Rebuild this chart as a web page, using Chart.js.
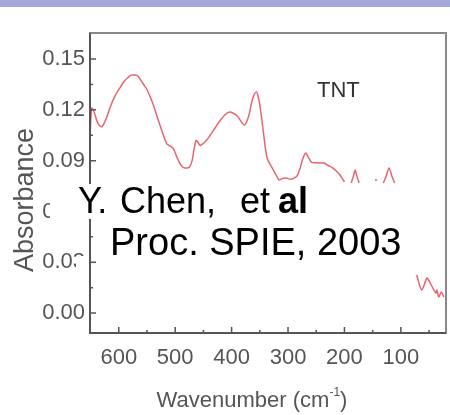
<!DOCTYPE html>
<html>
<head>
<meta charset="utf-8">
<script src="https://cdn.jsdelivr.net/npm/chart.js@4.4.1/dist/chart.umd.min.js"></script>
<style>
  html, body { margin: 0; padding: 0; background: #fff; }
</style>
</head>
<body>
<canvas id="spectrum" width="450" height="415"></canvas>
<script>
// TNT far-IR absorbance spectrum (null = hidden by the caption)
const wavenumber = [651, 648, 644, 637, 630, 622, 616, 607, 598, 590, 584, 578, 572, 566, 562, 556, 550, 540, 528, 515, 508, 503, 497, 492, 488, 483, 477, 474, 470, 467, 463, 460, 456, 453, 446, 439, 430, 422, 412, 404, 397, 390, 383, 377, 372, 368, 364, 360, 356, 353, 350, 346, 343, 340, 337, 333, 328, 322, 316, 310, 303, 296, 290, 284, 279, 275, 271, 268, 264, 258, 250, 243, 236, 228, 222, 215, 209, 204, 200,
  194, 188, 184, 181, 178, 174, 160, 146, 142, 136, 131, 126, 121, 116, 111, 90,
  72, 63, 54, 51, 38, 36, 33, 28, 24];
const absorbance = [0.104, 0.121, 0.119, 0.112, 0.110, 0.115, 0.121, 0.128, 0.133, 0.137, 0.139, 0.1405, 0.1406, 0.140, 0.138, 0.135, 0.132, 0.124, 0.112, 0.100, 0.0985, 0.097, 0.092, 0.0886, 0.0865, 0.0857, 0.0858, 0.0865, 0.090, 0.096, 0.102, 0.101, 0.099, 0.0995, 0.1015, 0.1045, 0.109, 0.113, 0.117, 0.1187, 0.118, 0.1164, 0.113, 0.111, 0.114, 0.1187, 0.125, 0.129, 0.1306, 0.128, 0.123, 0.113, 0.105, 0.097, 0.0916, 0.0885, 0.0857, 0.082, 0.0786, 0.0795, 0.0797, 0.079, 0.0795, 0.081, 0.085, 0.090, 0.0935, 0.0945, 0.092, 0.089, 0.0888, 0.0886, 0.0886, 0.087, 0.086, 0.084, 0.082, 0.0795, 0.0774,
  null, 0.0768, 0.081, 0.0845, 0.081, 0.0768, null, 0.0786, 0.0786, null, 0.0768, 0.081, 0.0857, 0.081, 0.0768, null,
  0.0224, 0.0136, 0.0207, 0.0195, 0.0118, 0.0136, 0.0095, 0.0124, 0.0095];

const xTicks = [600, 500, 400, 300, 200, 100];
const xMinorTicks = [550, 450, 350, 250, 150, 50];
const yTicks = [0, 0.03, 0.06, 0.09, 0.12, 0.15];
const yMinorTicks = [0.015, 0.045, 0.075, 0.105, 0.135];

const FONT = '"Liberation Sans", Arial, sans-serif';

// frame, inward ticks, axis titles, top band and the pasted caption
const decor = {
  id: "decor",
  beforeDraw(chart) {
    const c = chart.ctx;
    c.save();
    c.fillStyle = "#fff";
    c.fillRect(0, 0, chart.width, chart.height);
    c.fillStyle = "#a2a8dc";
    c.fillRect(0, 0, chart.width, 7);
    c.restore();
  },
  afterDraw(chart) {
    const c = chart.ctx;
    const a = chart.chartArea;
    const xs = chart.scales.x, ys = chart.scales.y;
    c.save();
    c.strokeStyle = "#888";
    c.lineWidth = 2;
    c.strokeRect(a.left, a.top, a.right - a.left, a.bottom - a.top);
    c.strokeStyle = "#555";
    c.beginPath();
    c.moveTo(a.left, a.top); c.lineTo(a.left, a.bottom); c.lineTo(a.right, a.bottom);
    c.stroke();
    c.lineWidth = 1.5;
    c.beginPath();
    xTicks.forEach(v => { const p = xs.getPixelForValue(v); c.moveTo(p, a.bottom); c.lineTo(p, a.bottom - 6); });
    xMinorTicks.forEach(v => { const p = xs.getPixelForValue(v); c.moveTo(p, a.bottom); c.lineTo(p, a.bottom - 3); });
    yTicks.forEach(v => { const p = ys.getPixelForValue(v); c.moveTo(a.left, p); c.lineTo(a.left + 6, p); });
    yMinorTicks.forEach(v => { const p = ys.getPixelForValue(v); c.moveTo(a.left, p); c.lineTo(a.left + 3, p); });
    c.stroke();

    // axis titles
    c.fillStyle = "#555";
    c.textBaseline = "alphabetic";
    c.font = "22px " + FONT;
    const xt = "Wavenumber (cm", sup = "-1", close = ")";
    const w1 = c.measureText(xt).width, w3 = c.measureText(close).width;
    c.font = "12px " + FONT;
    const w2 = c.measureText(sup).width;
    let x0 = 252 - (w1 + w2 + w3) / 2;
    c.textAlign = "left";
    c.font = "22px " + FONT;
    c.fillText(xt, x0, 407);
    c.font = "12px " + FONT;
    c.fillText(sup, x0 + w1, 396);
    c.font = "22px " + FONT;
    c.fillText(close, x0 + w1 + w2, 407);

    c.save();
    c.translate(33, 200);
    c.rotate(-Math.PI / 2);
    c.textAlign = "center";
    c.font = "27px " + FONT;
    c.fillText("Absorbance", 0, 0);
    c.restore();

    // caption pasted over the plot
    c.fillStyle = "#fff";
    c.fillRect(50, 184, 265, 35);
    c.fillRect(76, 256, 12, 12);

    c.fillStyle = "#000";
    c.textAlign = "left";
    c.font = "36px " + FONT;
    c.fillText("Y.", 78, 213);
    c.fillText("Chen,", 120, 213);
    c.fillText("et", 240, 213);
    c.font = "bold 36px " + FONT;
    c.fillText("al", 278, 213);
    c.font = "38px " + FONT;
    c.fillText("Proc. SPIE, 2003", 110, 255);

    c.fillStyle = "#333";
    c.font = "22px " + FONT;
    c.fillText("TNT", 317, 97);
    c.restore();
  }
};

new Chart(document.getElementById("spectrum"), {
  type: "line",
  data: {
    datasets: [{
      data: wavenumber.map((w, i) => ({ x: w, y: absorbance[i] })),
      borderColor: "#e8656f",
      borderWidth: 1.5,
      pointRadius: 0,
      tension: 0.25,
      spanGaps: false,
      fill: false
    }]
  },
  options: {
    responsive: false,
    animation: false,
    devicePixelRatio: 1,
    layout: { padding: { top: 33, right: 4, left: 0, bottom: 0 } },
    plugins: { legend: { display: false }, tooltip: { enabled: false } },
    scales: {
      x: {
        type: "linear",
        reverse: true,
        min: 20,
        max: 651,
        afterBuildTicks: s => { s.ticks = xTicks.map(v => ({ value: v })); },
        afterFit: s => { s.height = 82; },
        grid: { display: false, drawTicks: false },
        border: { display: false },
        ticks: { color: "#555", padding: 12, maxRotation: 0, font: { family: FONT, size: 22 }, callback: v => String(v) }
      },
      y: {
        type: "linear",
        min: -0.0118,
        max: 0.1654,
        afterBuildTicks: s => { s.ticks = yTicks.map(v => ({ value: v })); },
        afterFit: s => { s.width = 90; },
        grid: { display: false, drawTicks: false },
        border: { display: false },
        ticks: { color: "#555", padding: 5, font: { family: FONT, size: 22 }, callback: v => v.toFixed(2) }
      }
    }
  },
  plugins: [decor]
});
</script>
</body>
</html>
